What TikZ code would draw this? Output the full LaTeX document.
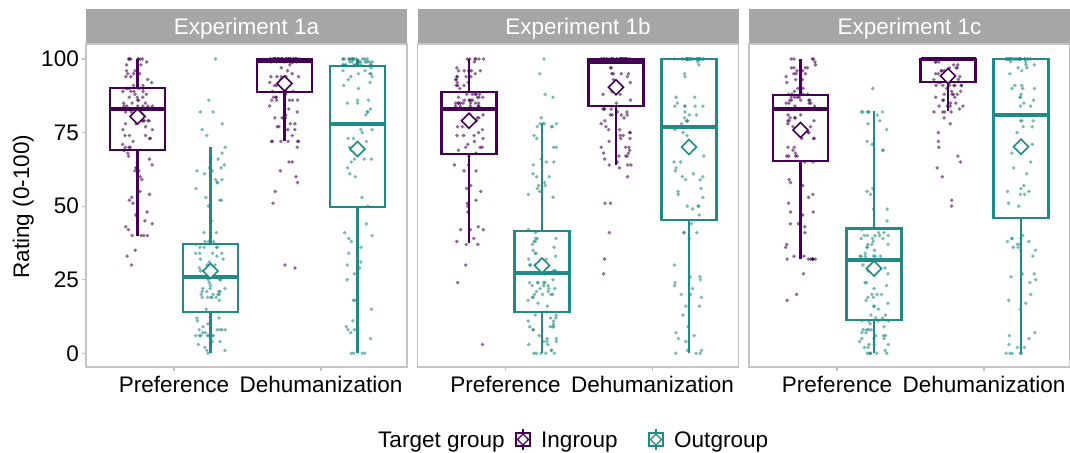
\documentclass[tikz,border=0pt]{standalone}
\usepackage{xcolor}
\usepackage{tikz}
\usepackage{fontspec}
\setmainfont{Liberation Sans}

\definecolor{ingroup}{HTML}{440154}
\definecolor{outgroup}{HTML}{1F8A86}
\definecolor{stripgray}{HTML}{A6A6A6}
\definecolor{framegray}{HTML}{C4C4C4}

\begin{document}
\begin{tikzpicture}[x=1bp, y=-1bp, font={\fontsize{22.6}{27}\selectfont}]
  \useasboundingbox (0,0) rectangle (1070,453);
  \pgfmathsetseed{2024}

  % panels, strips and x axis
  \foreach \px/\lab in {86/1a, 417.5/1b, 749/1c}{
    \fill[stripgray] (\px,9) rectangle (\px+321,44);
    \node[white, anchor=base, inner sep=0] (strip\lab) at (\px+160.5,35) {Experiment \lab};
    \draw[framegray, line width=1.1bp] (\px,44) rectangle (\px+321,367);
    \draw[framegray, line width=1.1bp] (\px+88,367) -- (\px+88,371);
    \draw[framegray, line width=1.1bp] (\px+235,367) -- (\px+235,371);
    \node[anchor=base, inner sep=0] (pref\lab) at (\px+88,393) {Preference};
    \node[anchor=base, inner sep=0] (dehum\lab) at (\px+235,393) {Dehumanization};
  }

  % y axis
  \foreach \v in {0,25,50,75,100}{
    \draw[framegray, line width=1.1bp] (82,353.3-2.943*\v) -- (86,353.3-2.943*\v);
    \node[anchor=east, inner sep=0] (ytick\v) at (79,353.3-2.943*\v) {\v};
  }
  \node[rotate=90, anchor=base, inner sep=0] (ytitle) at (29,206.7) {Rating (0-100)};

  % boxes, jittered ratings and means
  \foreach \px/\xc/\wl/\qa/\md/\qb/\wh/\mn/\col in {
      86/51.5/40/69/83/90/100/80.5/ingroup,
      86/124.5/0/14/26/37/70/28/outgroup,
      86/198.5/72/88.7/99.3/100/100/91.7/ingroup,
      86/271.5/0/49.8/78/97.7/100/69.4/outgroup,
      417.5/51.5/37.4/67.8/83.1/88.8/100/79/ingroup,
      417.5/124.5/0/14.1/27.2/41.6/77.8/29.8/outgroup,
      417.5/198.5/64.1/83.9/99/100/100/90.4/ingroup,
      417.5/271.5/0/45.3/77/100/100/70.1/outgroup,
      749/51.5/32.1/65.2/83.1/87.9/100/75.9/ingroup,
      749/125/0/11.3/31.6/42.4/82.2/28.8/outgroup,
      749/199/82.2/92.3/100/100/100/94.2/ingroup,
      749/272/0/46.1/81/100/100/70.2/outgroup}{
    \begin{scope}[shift={(\px,353.3)}, y=2.943bp]
      \draw[color=\col, line width=2.1bp] (\xc,\wl) -- (\xc,\qa) (\xc,\qb) -- (\xc,\wh);
      \draw[color=\col, line width=2.1bp] (\xc-27.5,\qa) rectangle (\xc+27.5,\qb);
      \foreach \i in {1,...,100}{
        \pgfmathsetmacro{\u}{max(0,min(3.999,4*(1.12*rnd-0.06)))}
        \pgfmathsetmacro{\k}{int(floor(\u))}
        \pgfmathsetmacro{\f}{\u-\k}
        \pgfmathsetmacro{\val}{round(\k==0 ? \wl+\f*(\qa-\wl) : (\k==1 ? \qa+\f*(\md-\qa) : (\k==2 ? \md+\f*(\qb-\md) : \qb+\f*(\wh-\qb))))}
        \pgfmathsetmacro{\jx}{\xc+30*rnd-15}
        \fill[color=\col, opacity=0.6] (\jx,\val) circle (1.9bp);
      }
      \draw[color=\col, line width=3.8bp] (\xc-27.5,\md) -- (\xc+27.5,\md);
      \draw[color=\col, line width=1.6bp, fill=white] (\xc,\mn) +(0bp,7.5bp) -- +(7.5bp,0bp) -- +(0bp,-7.5bp) -- +(-7.5bp,0bp) -- cycle;
    \end{scope}
  }

  % ratings outside the whiskers
  \foreach \px/\xc/\val/\col in {
      86/51.5/30/ingroup, 86/51.5/33/ingroup, 86/51.5/35/ingroup,
      86/124.5/74/outgroup, 86/124.5/76/outgroup, 86/124.5/78/outgroup, 86/124.5/82/outgroup,
      86/124.5/82/outgroup, 86/124.5/86/outgroup, 86/124.5/100/outgroup,
      86/198.5/30/ingroup, 86/198.5/29/ingroup, 86/198.5/51/ingroup, 86/198.5/55/ingroup,
      86/198.5/58/ingroup, 86/198.5/60/ingroup, 86/198.5/62/ingroup, 86/198.5/65/ingroup,
      86/198.5/65/ingroup, 86/198.5/70/ingroup,
      417.5/51.5/24/ingroup, 417.5/51.5/3/ingroup, 417.5/51.5/30/ingroup,
      417.5/124.5/100/outgroup, 417.5/124.5/95/outgroup, 417.5/124.5/87/outgroup,
      417.5/124.5/88/outgroup, 417.5/124.5/80/outgroup,
      417.5/198.5/51/ingroup, 417.5/198.5/51/ingroup, 417.5/198.5/41/ingroup,
      417.5/198.5/32/ingroup, 417.5/198.5/27/ingroup, 417.5/198.5/60/ingroup,
      417.5/198.5/63/ingroup,
      749/51.5/20/ingroup, 749/51.5/18/ingroup, 749/51.5/27/ingroup,
      749/125/90/outgroup,
      749/199/50/ingroup, 749/199/52/ingroup, 749/199/60/ingroup, 749/199/63/ingroup,
      749/199/65/ingroup, 749/199/67/ingroup, 749/199/70/ingroup, 749/199/72/ingroup,
      749/199/75/ingroup, 749/199/78/ingroup, 749/199/80/ingroup}{
    \begin{scope}[shift={(\px,353.3)}, y=2.943bp]
      \pgfmathsetmacro{\jx}{\xc+30*rnd-15}
      \fill[color=\col, opacity=0.6] (\jx,\val) circle (1.9bp);
    \end{scope}
  }

  % legend
  \node[anchor=base west, inner sep=0] (legtitle) at (378,447) {Target group};
  \foreach \cx/\col/\name in {523/ingroup/Ingroup, 656/outgroup/Outgroup}{
    \draw[color=\col, line width=1.5bp] (\cx,429) -- (\cx,433) (\cx,446) -- (\cx,450);
    \draw[color=\col, line width=1.5bp] (\cx-7,433) rectangle (\cx+7,446);
    \draw[color=\col, line width=1.5bp] (\cx-7,439.5) -- (\cx+7,439.5);
    \draw[color=\col, line width=1.3bp, fill=white] (\cx,439.5) +(0,-5.5) -- +(5.5,0) -- +(0,5.5) -- +(-5.5,0) -- cycle;
    \node[anchor=base west, inner sep=0] (leg\name) at (\cx+18,447) {\name};
  }
\end{tikzpicture}
\end{document}
